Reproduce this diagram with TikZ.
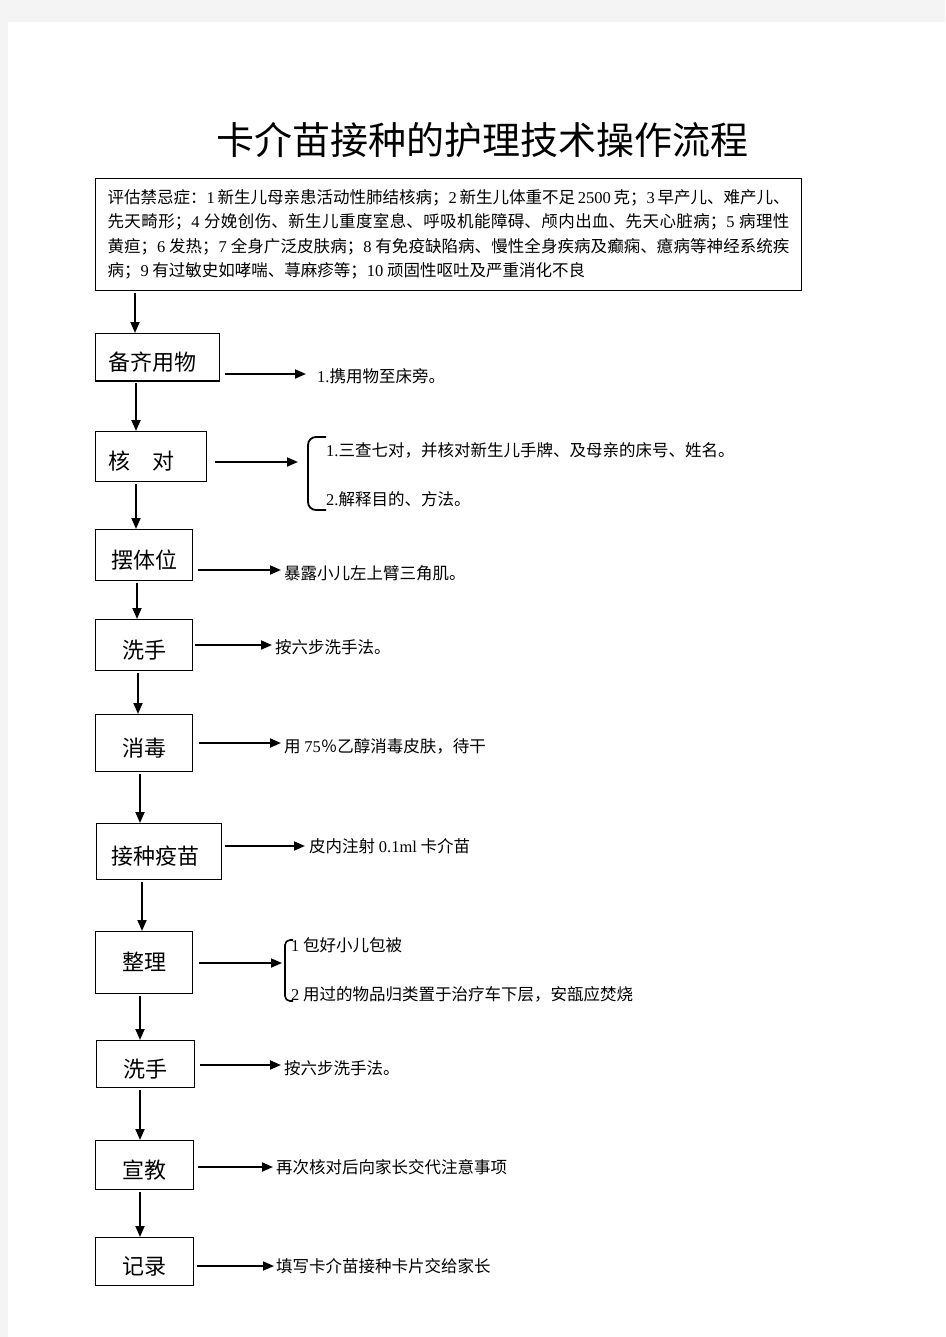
\documentclass[tikz,border=0pt]{standalone}
\usepackage{fontspec}
\setmainfont{Liberation Serif}
\newfontfamily\cjk{Noto Sans CJK SC}
\usetikzlibrary{arrows.meta}
\XeTeXlinebreaklocale "zh"
\XeTeXlinebreakskip=0pt plus 1pt
\newcommand\dg[1]{{\rmfamily #1}}
\definecolor{pagegray}{HTML}{F4F4F4}
\tikzset{
  stepbox/.style={draw, line width=1.1pt, anchor=north west, inner sep=0pt,
    text height=29pt, text depth=3pt, font=\cjk\fontsize{22}{26}\selectfont},
  note/.style={anchor=west, inner sep=1pt, font=\cjk\fontsize{16.5}{20}\selectfont},
  flow/.style={-{Triangle[length=11pt,width=9pt]}, line width=1.8pt},
}
\begin{document}
\begin{tikzpicture}[x=1pt,y=-1pt]
    \useasboundingbox (0,0) rectangle (945,1337);
    \fill[pagegray] (0,0) rectangle (945,1337);
    \fill[white] (8,22) rectangle (945,1337);

    \node[font=\cjk\fontsize{38}{44}\selectfont] (title) at (482,140) {卡介苗接种的护理技术操作流程};

    % contraindications
    \node[draw, line width=1pt, anchor=north west, minimum width=705, minimum height=112,
          text width=682, inner xsep=12, align=justify,
          font=\cjk\fontsize{16.5}{24.5}\selectfont] (contra) at (95,178)
      {评估禁忌症：\dg{1} 新生儿母亲患活动性肺结核病；\dg{2} 新生儿体重不足 \dg{2500} 克；\dg{3} 早产儿、难产儿、\linebreak
       先天畸形；\dg{4} 分娩创伤、新生儿重度室息、呼吸机能障碍、颅内出血、先天心脏病；\dg{5} 病理性\linebreak
       黄疸；\dg{6} 发热；\dg{7} 全身广泛皮肤病；\dg{8} 有免疫缺陷病、慢性全身疾病及癫痫、癔病等神经系统疾\linebreak
       病；\dg{9} 有过敏史如哮喘、荨麻疹等；\dg{10} 顽固性呕吐及严重消化不良};

    % steps
    \node[stepbox, minimum width=124, minimum height=47] (prep) at (95,333) {备齐用物\kern10pt};
    \draw[line width=2.6pt] (prep.south west) -- (prep.south east);
    \node[stepbox, minimum width=111, minimum height=50] (check) at (95,431) {核　对\kern20pt};
    \node[stepbox, minimum width=97, minimum height=51] (pose) at (95,529) {摆体位};
    \node[stepbox, minimum width=97, minimum height=51] (wash1) at (95,619) {洗手};
    \node[stepbox, minimum width=97, minimum height=57] (disinf) at (95,714) {消毒};
    \node[stepbox, minimum width=125, minimum height=56] (inject) at (96,823) {接种疫苗\kern8pt};
    \node[stepbox, minimum width=97, minimum height=62, text height=19pt] (tidy) at (95,931) {整理};
    \node[stepbox, minimum width=98, minimum height=47] (wash2) at (96,1040) {洗手};
    \node[stepbox, minimum width=98, minimum height=49] (teach) at (95,1140) {宣教};
    \node[stepbox, minimum width=98, minimum height=48] (record) at (95,1237) {记录};

    \foreach \a/\b/\x in {contra/prep/135, prep/check/136, check/pose/136, pose/wash1/137,
        wash1/disinf/138, disinf/inject/140, inject/tidy/142, tidy/wash2/140,
        wash2/teach/140, teach/record/140}
    {
        \coordinate (col) at (\x,0);
        \draw[flow, shorten <=2pt] (\a.south -| col) -- (\b.north -| col);
    }

    % notes
    \node[note] (t1) at (316,376) {\dg{1.}携用物至床旁。};
    \node[note] (t2a) at (325,450) {\dg{1.}三查七对，并核对新生儿手牌、及母亲的床号、姓名。};
    \node[note] (t2b) at (325,499) {\dg{2.}解释目的、方法。};
    \node[note] (t3) at (283,573) {暴露小儿左上臂三角肌。};
    \node[note] (t4) at (274,647) {按六步洗手法。};
    \node[note] (t5) at (283,746) {用 \dg{75}％乙醇消毒皮肤，待干};
    \node[note] (t6) at (308,846) {皮内注射 \dg{0.1ml} 卡介苗};
    \node[note] (t7a) at (290,945) {\dg{1} 包好小儿包被};
    \node[note] (t7b) at (290,994) {\dg{2} 用过的物品归类置于治疗车下层，安瓿应焚烧};
    \node[note] (t8) at (283,1068) {按六步洗手法。};
    \node[note] (t9) at (275,1167) {再次核对后向家长交代注意事项};
    \node[note] (t10) at (275,1266) {填写卡介苗接种卡片交给家长};

    % braces
    \draw[line width=1.8pt, rounded corners=8pt] (326,437) -- (308,437) -- (308,510) -- (326,510);
    \draw[line width=1.6pt, rounded corners=5pt] (293,940) -- (285,940) -- (285,1001) -- (293,1001);
    \coordinate (br1) at (298,462);
    \coordinate (br2) at (282,963);

    \draw[flow, shorten <=5pt, shorten >=10pt] ([yshift=2]prep.east |- t1) -- ([yshift=2]t1.west);
    \draw[flow, shorten <=8pt] (check.east |- br1) -- (br1);
    \draw[flow, shorten <=5pt, shorten >=2pt] ([yshift=3]pose.east |- t3) -- ([yshift=3]t3.west);
    \draw[flow, shorten <=2pt, shorten >=2pt] ([yshift=2]wash1.east |- t4) -- ([yshift=2]t4.west);
    \draw[flow, shorten <=6pt, shorten >=2pt] ([yshift=3]disinf.east |- t5) -- ([yshift=3]t5.west);
    \draw[flow, shorten <=3pt, shorten >=3pt] (inject.east |- t6) -- (t6.west);
    \draw[flow, shorten <=6pt] (tidy.east |- br2) -- (br2);
    \draw[flow, shorten <=5pt, shorten >=2pt] ([yshift=3]wash2.east |- t8) -- ([yshift=3]t8.west);
    \draw[flow, shorten <=4pt, shorten >=2pt] (teach.east |- t9) -- (t9.west);
    \draw[flow, shorten <=3pt, shorten >=1pt] (record.east |- t10) -- (t10.west);
\end{tikzpicture}
\end{document}
